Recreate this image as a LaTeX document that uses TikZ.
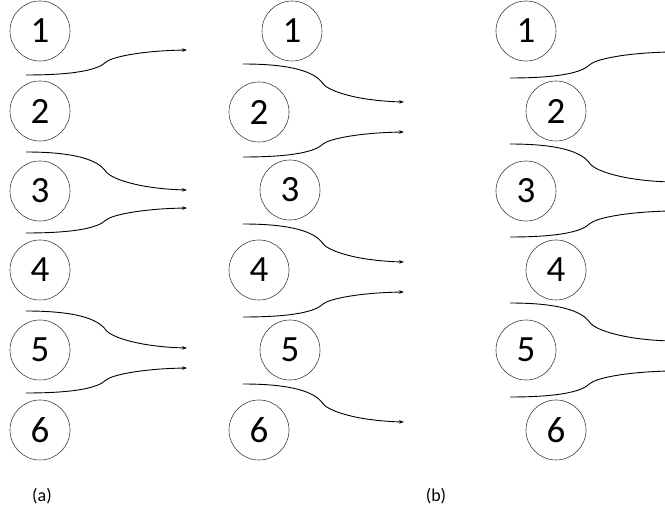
\documentclass[tikz,border=0pt]{standalone}
\usepackage{fontspec}
\setmainfont{Carlito}
\usetikzlibrary{arrows.meta}
\tikzset{
  x=1pt, y=-1pt,
  ball/.style={circle, draw=black!75, line width=0.6pt, minimum size=60pt, inner sep=0pt, font=\fontsize{37}{37}\selectfont},
  flowline/.style={line width=0.9pt, black},
  arr/.style={-{Stealth[length=5pt,width=3.5pt]}},
  pics/flow/.style 2 args={code={
    \draw[flowline,#2] (0,0) .. controls (48,0) and (72,{0.2*#1}) .. (80,{0.52*#1})
      .. controls (86,{0.72*#1}) and (115,{0.97*#1}) .. (161,#1);
  }},
  captext/.style={font=\fontsize{18}{18}\selectfont}
}
\begin{document}
\begin{tikzpicture}
\useasboundingbox (0,0) rectangle (665,513);
\clip (0,0) rectangle (665,513);
% column (a)
\node[ball] (a1) at (40,31) {1};
\node[ball] (a2) at (40,111) {2};
\node[ball] (a3) at (40,191) {3};
\node[ball] (a4) at (40,270) {4};
\node[ball] (a5) at (40,350) {5};
\node[ball] (a6) at (40,430) {6};
\pic at (26,75) {flow={-25}{arr}};
\pic at (26,152) {flow={38}{arr}};
\pic at (26,233) {flow={-25}{arr}};
\pic at (26,311) {flow={37}{arr}};
\pic at (26,393) {flow={-25}{arr}};
% column (b) middle
\node[ball] (b1) at (292,31) {1};
\node[ball] (b2) at (259,112) {2};
\node[ball] (b3) at (290,190) {3};
\node[ball] (b4) at (259,270) {4};
\node[ball] (b5) at (290,350) {5};
\node[ball] (b6) at (259,430) {6};
\pic at (243,64) {flow={38}{arr}};
\pic at (243,157) {flow={-25}{arr}};
\pic at (243,224) {flow={38}{arr}};
\pic at (243,317) {flow={-25}{arr}};
\pic at (243,384) {flow={38}{arr}};
% column (c) right
\node[ball] (c1) at (526,31) {1};
\node[ball] (c2) at (556,111) {2};
\node[ball] (c3) at (526,191) {3};
\node[ball] (c4) at (556,270) {4};
\node[ball] (c5) at (526,350) {5};
\node[ball] (c6) at (556,430) {6};
\pic at (510,78) {flow={-26}{}};
\pic at (510,144) {flow={38}{}};
\pic at (510,237) {flow={-26}{}};
\pic at (510,303) {flow={38}{}};
\pic at (510,397) {flow={-26}{}};
% captions
\node[captext] (la) at (42,496) {(a)};
\node[captext] (lb) at (436,496) {(b)};
\end{tikzpicture}
\end{document}
